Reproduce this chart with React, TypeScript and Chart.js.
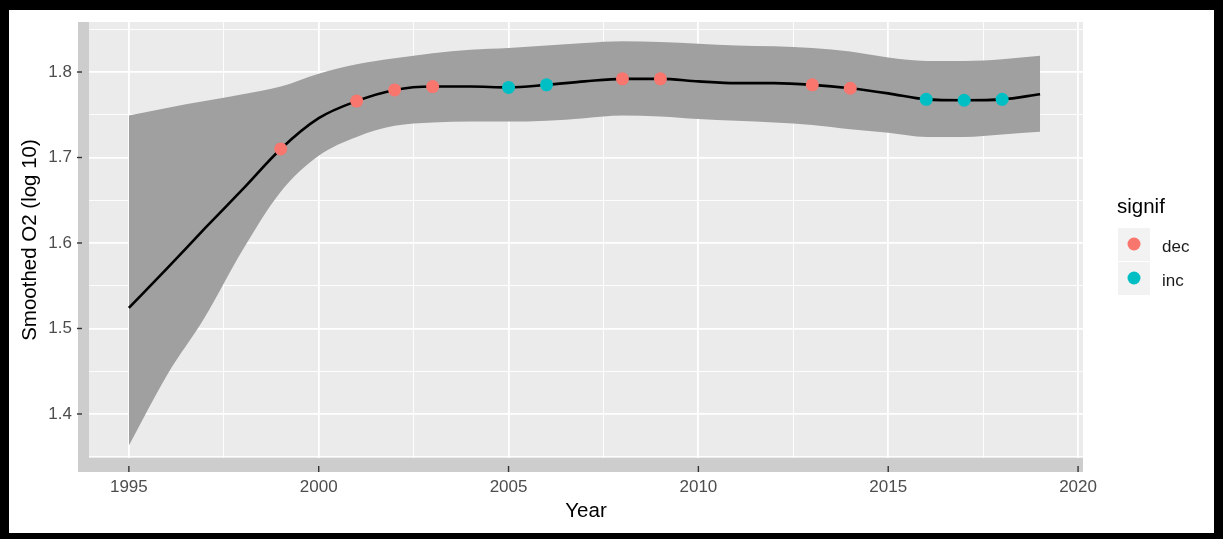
import React, { useEffect, useRef } from "react";
import { Chart, registerables } from "chart.js";

Chart.register(...registerables);

const years = [1995, 1996, 1997, 1998, 1999, 2000, 2001, 2002, 2003, 2004, 2005, 2006, 2007, 2008, 2009, 2010, 2011, 2012, 2013, 2014, 2015, 2016, 2017, 2018, 2019];
const fitValues = [1.524, 1.570, 1.617, 1.663, 1.710, 1.746, 1.766, 1.779, 1.783, 1.783, 1.782, 1.785, 1.789, 1.792, 1.792, 1.789, 1.787, 1.787, 1.785, 1.781, 1.775, 1.768, 1.767, 1.768, 1.774];
const upperValues = [1.749, 1.758, 1.766, 1.774, 1.783, 1.798, 1.809, 1.816, 1.822, 1.826, 1.828, 1.831, 1.834, 1.836, 1.835, 1.833, 1.831, 1.830, 1.828, 1.824, 1.817, 1.813, 1.813, 1.815, 1.819];
const lowerValues = [1.363, 1.445, 1.513, 1.592, 1.660, 1.702, 1.724, 1.737, 1.741, 1.742, 1.742, 1.743, 1.746, 1.749, 1.748, 1.745, 1.743, 1.741, 1.738, 1.733, 1.729, 1.724, 1.724, 1.727, 1.730];

const decYears = [1999, 2001, 2002, 2003, 2008, 2009, 2013, 2014];
const decValues = [1.710, 1.766, 1.779, 1.783, 1.792, 1.792, 1.785, 1.781];
const incYears = [2005, 2006, 2016, 2017, 2018];
const incValues = [1.782, 1.785, 1.768, 1.767, 1.768];

const xMajorTicks = [1995, 2000, 2005, 2010, 2015, 2020];
const xMinorTicks = [1997.5, 2002.5, 2007.5, 2012.5, 2017.5];
const yMajorTicks = [1.4, 1.5, 1.6, 1.7, 1.8];
const yMinorTicks = [1.35, 1.45, 1.55, 1.65, 1.75, 1.85];

const legendTitle = "signif";
const legendLabels = ["dec", "inc"];
const xTitle = "Year";
const yTitle = "Smoothed O2 (log 10)";

const DEC_COLOR = "#F8766D";
const INC_COLOR = "#00BFC4";
const FONT = "'Liberation Sans', Arial, sans-serif";

const isIn = (arr: number[], v: number) => arr.some((t) => Math.abs(t - v) < 1e-6);

export default function App() {
  const ref = useRef<HTMLCanvasElement | null>(null);

  useEffect(() => {
    const canvas = ref.current;
    if (!canvas) return;

    const panelPlugin = {
      id: "panelBg",
      beforeDraw(chart: any) {
        const { ctx, chartArea } = chart;
        const { left, right, top, bottom } = chartArea;
        ctx.save();
        ctx.fillStyle = "#cdcdcd";
        ctx.fillRect(left - 11, top, right - left + 11, bottom - top + 14);
        ctx.fillStyle = "#ebebeb";
        ctx.fillRect(left, top, right - left, bottom - top);
        ctx.restore();
      },
      afterDraw(chart: any) {
        const { ctx, chartArea, scales } = chart;
        ctx.save();
        ctx.strokeStyle = "#333333";
        ctx.lineWidth = 1.4;
        xMajorTicks.forEach((v) => {
          const px = scales.x.getPixelForValue(v);
          ctx.beginPath();
          ctx.moveTo(px, chartArea.bottom + 8);
          ctx.lineTo(px, chartArea.bottom + 14);
          ctx.stroke();
        });
        yMajorTicks.forEach((v) => {
          const py = scales.y.getPixelForValue(v);
          ctx.beginPath();
          ctx.moveTo(chartArea.left - 12, py);
          ctx.lineTo(chartArea.left - 7, py);
          ctx.stroke();
        });

        // legend
        const ds = chart.data.datasets;
        const colors = [ds[0].backgroundColor, ds[1].backgroundColor];
        const lx = chartArea.right + 34;
        ctx.fillStyle = "#000000";
        ctx.font = `20.5px ${FONT}`;
        ctx.textBaseline = "middle";
        ctx.textAlign = "left";
        ctx.fillText(legendTitle, lx, 207);
        legendLabels.forEach((lab, i) => {
          const ky = 228 + i * 34;
          ctx.fillStyle = "#f2f2f2";
          ctx.fillRect(lx + 1, ky, 32, 33);
          ctx.fillStyle = colors[i];
          ctx.beginPath();
          ctx.arc(lx + 17, ky + 16, 6.5, 0, Math.PI * 2);
          ctx.fill();
          ctx.fillStyle = "#1a1a1a";
          ctx.font = `17px ${FONT}`;
          ctx.fillText(lab, lx + 45, ky + 19);
        });
        ctx.restore();
      },
    };

    const chart = new Chart(canvas, {
      type: "line",
      data: {
        datasets: [
          {
            type: "scatter",
            label: legendLabels[0],
            data: decYears.map((x, i) => ({ x, y: decValues[i] })),
            backgroundColor: DEC_COLOR,
            borderColor: DEC_COLOR,
            pointRadius: 6.5,
            pointBorderWidth: 0,
            showLine: false,
          },
          {
            type: "scatter",
            label: legendLabels[1],
            data: incYears.map((x, i) => ({ x, y: incValues[i] })),
            backgroundColor: INC_COLOR,
            borderColor: INC_COLOR,
            pointRadius: 6.5,
            pointBorderWidth: 0,
            showLine: false,
          },
          {
            label: "fit",
            data: years.map((x, i) => ({ x, y: fitValues[i] })),
            borderColor: "#000000",
            borderWidth: 2.6,
            pointRadius: 0,
            fill: false,
            cubicInterpolationMode: "monotone",
          },
          {
            label: "upper",
            data: years.map((x, i) => ({ x, y: upperValues[i] })),
            borderWidth: 0,
            borderColor: "rgba(0,0,0,0)",
            backgroundColor: "#a0a0a0",
            pointRadius: 0,
            fill: "+1",
            cubicInterpolationMode: "monotone",
          },
          {
            label: "lower",
            data: years.map((x, i) => ({ x, y: lowerValues[i] })),
            borderWidth: 0,
            borderColor: "rgba(0,0,0,0)",
            pointRadius: 0,
            fill: false,
            cubicInterpolationMode: "monotone",
          },
        ],
      },
      options: {
        responsive: false,
        animation: false,
        layout: { padding: { left: 0, top: 22, right: 140, bottom: 0 } },
        plugins: {
          legend: { display: false },
          tooltip: { enabled: false },
          filler: { drawTime: "beforeDatasetsDraw" },
        },
        scales: {
          x: {
            type: "linear",
            min: 1993.95,
            max: 2020.13,
            afterBuildTicks: (scale: any) => {
              scale.ticks = [...xMajorTicks, ...xMinorTicks].sort((a, b) => a - b).map((v) => ({ value: v }));
            },
            afterFit: (scale: any) => {
              scale.height = 81;
              scale.paddingLeft = 0;
              scale.paddingRight = 0;
            },
            border: { display: false },
            grid: {
              color: "#ffffff",
              lineWidth: (c: any) => (isIn(xMajorTicks, c.tick.value) ? 1.8 : 0.9),
              drawTicks: false,
            },
            ticks: {
              autoSkip: false,
              maxRotation: 0,
              padding: 19,
              color: "#4d4d4d",
              font: { family: FONT, size: 17 },
              callback: (v: any) => (isIn(xMajorTicks, Number(v)) ? String(Math.round(Number(v))) : ""),
            },
            title: {
              display: true,
              text: xTitle,
              color: "#000000",
              font: { family: FONT, size: 20.5 },
              padding: { top: 0, bottom: 15 },
            },
          },
          y: {
            type: "linear",
            min: 1.3485,
            max: 1.8585,
            afterBuildTicks: (scale: any) => {
              scale.ticks = [...yMajorTicks, ...yMinorTicks].sort((a, b) => a - b).map((v) => ({ value: v }));
            },
            afterFit: (scale: any) => {
              scale.width = 89;
              scale.paddingTop = 0;
              scale.paddingBottom = 0;
            },
            border: { display: false },
            grid: {
              color: "#ffffff",
              lineWidth: (c: any) => (isIn(yMajorTicks, c.tick.value) ? 1.8 : 0.9),
              drawTicks: false,
            },
            ticks: {
              autoSkip: false,
              padding: 17,
              color: "#4d4d4d",
              font: { family: FONT, size: 17 },
              callback: (v: any) => (isIn(yMajorTicks, Number(v)) ? Number(v).toFixed(1) : ""),
            },
            title: {
              display: true,
              text: yTitle,
              color: "#000000",
              font: { family: FONT, size: 20.5 },
              padding: { top: 18, bottom: 0 },
            },
          },
        },
      },
      plugins: [panelPlugin],
    } as any);

    return () => chart.destroy();
  }, []);

  return (
    <div style={{ position: "fixed", left: 0, top: 0, width: 1223, height: 539, background: "#ffffff" }}>
      <canvas ref={ref} width={1223} height={539} style={{ display: "block", width: 1223, height: 539 }} />
      <div
        style={{
          position: "absolute",
          left: 0,
          top: 0,
          width: 1223,
          height: 539,
          boxSizing: "border-box",
          borderStyle: "solid",
          borderColor: "#000000",
          borderWidth: "10px 9px 6px 9px",
          pointerEvents: "none",
        }}
      />
    </div>
  );
}
